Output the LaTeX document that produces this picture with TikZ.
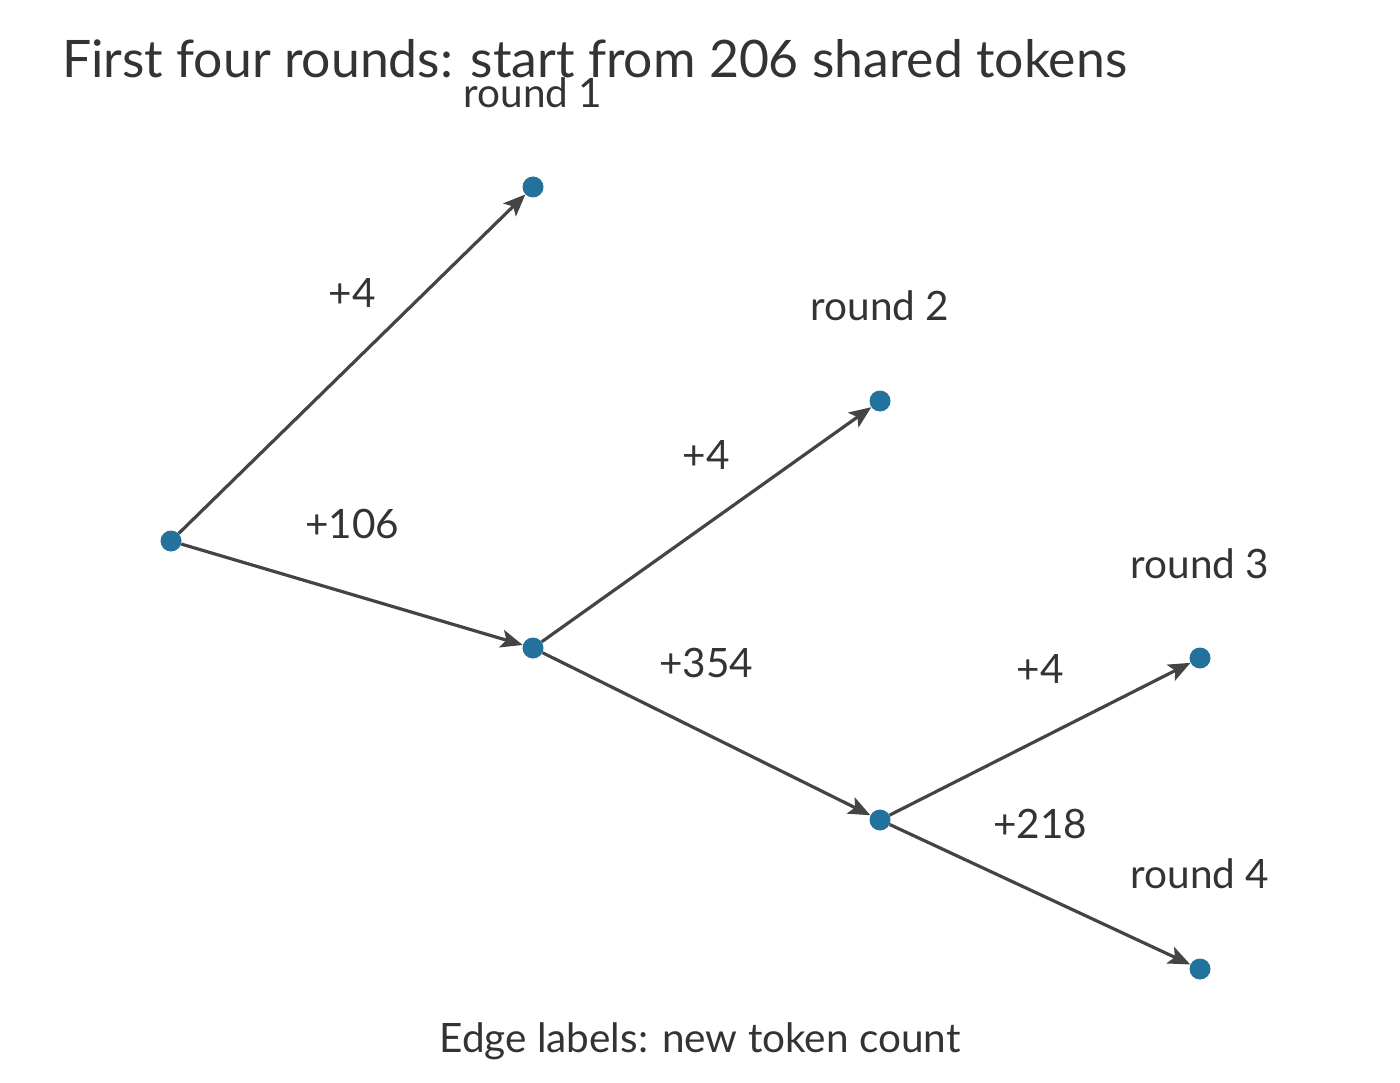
\documentclass[tikz,border=0pt]{standalone}
\usepackage{fontspec}
\setmainfont{Lato}
\usetikzlibrary{arrows.meta}
\definecolor{dotc}{HTML}{23729B}
\definecolor{edgec}{HTML}{444444}
\definecolor{txtc}{HTML}{333333}
\tikzset{
  dotn/.style={circle,fill=dotc,inner sep=0pt,minimum size=21pt},
  edgeline/.style={draw=edgec,line width=3.2pt,-{Stealth[length=22pt,width=18pt,inset=5pt]}},
  lbl/.style={text=txtc,font=\fontsize{40.5}{44}\selectfont,inner sep=0pt,anchor=center},
  ttl/.style={text=txtc,font=\fontsize{51.7}{58}\selectfont,inner sep=0pt,anchor=base west},
}
\begin{document}
\begin{tikzpicture}[x=1pt,y=-1pt]
\useasboundingbox (0,0) rectangle (1400,1083);
\node[dotn] (A) at (171,541) {};
\node[dotn] (R1) at (533,187) {};
\node[dotn] (B) at (533,648) {};
\node[dotn] (R2) at (880,401) {};
\node[dotn] (C) at (880,820) {};
\node[dotn] (R3) at (1200,658) {};
\node[dotn] (R4) at (1200,969) {};
\draw[edgeline] (A) -- (R1);
\draw[edgeline] (A) -- (B);
\draw[edgeline] (B) -- (R2);
\draw[edgeline] (B) -- (C);
\draw[edgeline] (C) -- (R3);
\draw[edgeline] (C) -- (R4);
\node[lbl] (l1) at (352,293) {+4};
\node[lbl] (l2) at (352,524) {+106};
\node[lbl] (l3) at (706,455) {+4};
\node[lbl] (l4) at (706,663) {+354};
\node[lbl] (l5) at (1040,669) {+4};
\node[lbl] (l6) at (1040,824) {+218};
\node[lbl] (n1) at (533,93) {round 1};
\node[lbl] (n2) at (880,306) {round 2};
\node[lbl] (n3) at (1200,564) {round 3};
\node[lbl] (n4) at (1200,874) {round 4};
\node[lbl] (foot) at (700,1041) {Edge labels: new token count};
\node[ttl] (title) at (62,78) {First four rounds: start from 206 shared tokens};
\end{tikzpicture}
\end{document}
